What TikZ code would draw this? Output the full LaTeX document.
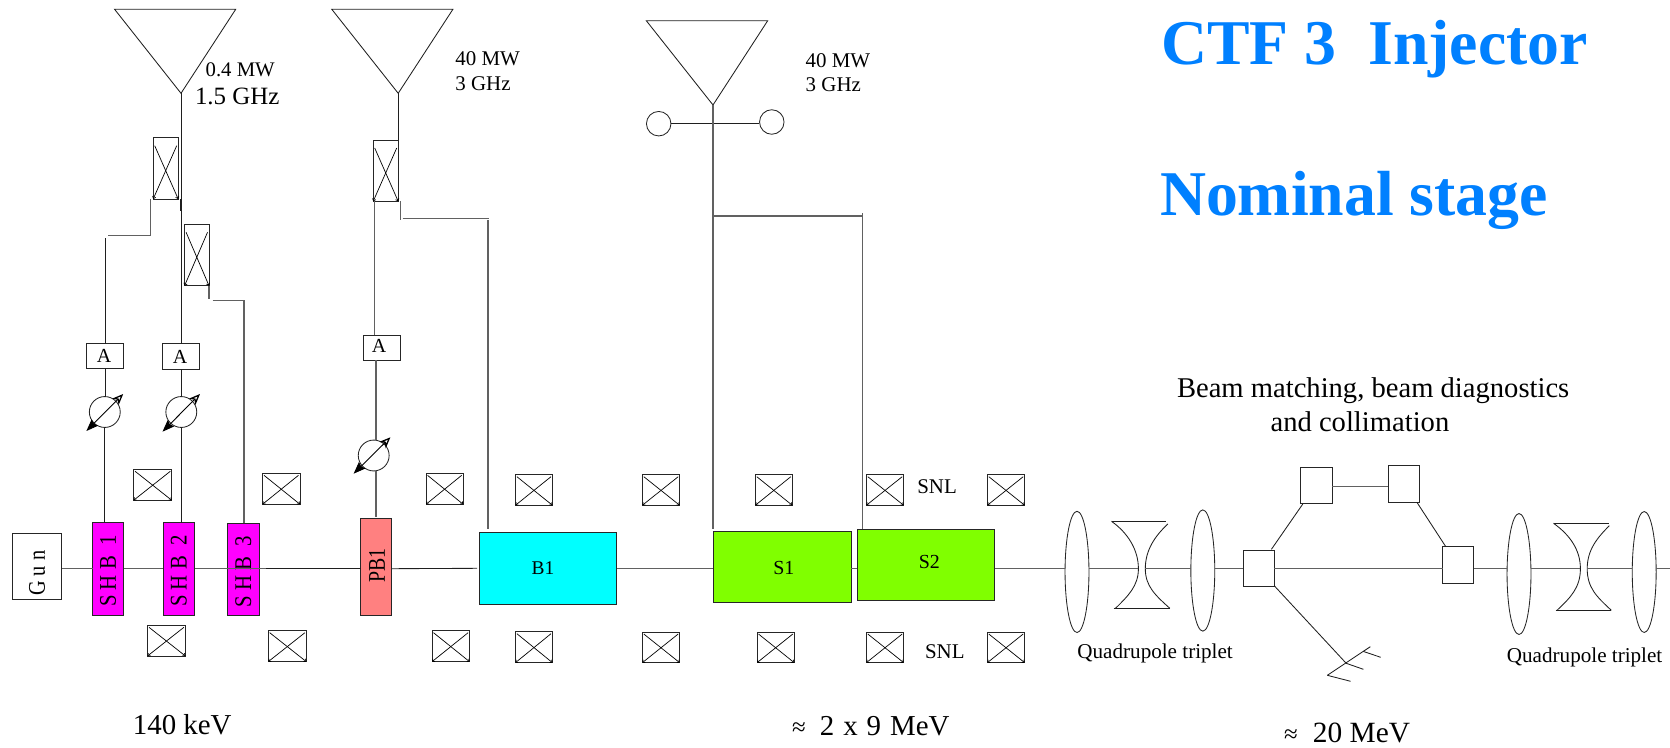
\documentclass[tikz,border=0pt]{standalone}
\usepackage{fontspec}
\setmainfont{Liberation Serif}
\usetikzlibrary{fit,calc,arrows.meta,shapes.geometric}
\newcommand{\fs}[1]{\fontsize{#1}{#1}\selectfont}
\newcommand{\dn}[2]{\raisebox{0pt}[\dimexpr\height+#1*2\relax][0pt]{#2}}
\definecolor{ctfblue}{HTML}{0080FF}
\definecolor{shbcol}{HTML}{FF00FF}
\definecolor{pbcol}{HTML}{FF8080}
\definecolor{acccol}{HTML}{80FF00}
\definecolor{bunch}{HTML}{00FFFF}
\tikzset{
 ln/.style={draw=black!88,line width=0.85pt},
 lng/.style={draw=black!62,line width=1.2pt},
 bx/.style={draw=black!85,line width=1pt,inner sep=0pt,outer sep=0pt,fill=white},
 xl/.style={draw=black,line width=0.7pt,-{Straight Barb[length=2pt,width=3.5pt]}},
 shb/.style={bx,fill=shbcol,text=black},
 lbl/.style={inner sep=0pt,outer sep=0pt,text=black},
 ell/.style={ellipse,draw=black!85,line width=0.85pt,fill=white,inner sep=0pt,outer sep=0pt},
 psh/.style={circle,draw=black!85,line width=0.85pt,fill=white,inner sep=0pt,outer sep=0pt,minimum size=31pt},
 dbl/.style={draw=black,line width=0.9pt,{Stealth[length=12pt,width=9pt,inset=1.5pt]}-{Stealth[open,length=11pt,width=9pt,inset=3pt,line width=1.3pt]}},
 title/.style={lbl,anchor=west,text=ctfblue,font=\bfseries\fs{64}},
}
% block: name, x0,y0,x1,y1, style, text
\newcommand{\blk}[7]{%
 \pgfmathsetmacro\bw{#4-#2}\pgfmathsetmacro\bh{#5-#3}%
 \pgfmathsetmacro\cx{(#2+#4)/2}\pgfmathsetmacro\cy{(#3+#5)/2}%
 \node[#6,minimum width=\bw bp,minimum height=\bh bp] (#1) at (\cx,\cy) {#7};
}
% crossed box: name, x0,y0,x1,y1, inset of the upper ends
\newcommand{\xbox}[6]{%
 \blk{#1}{#2}{#3}{#4}{#5}{bx}{}
 \draw[xl] ($(#1.north east)+(-1.5,#6)$) -- (#1.south west);
 \draw[xl] ($(#1.north west)+(1.5,#6)$) -- (#1.south east);
}
\begin{document}
\begin{tikzpicture}[x=1bp,y=-1bp]
\useasboundingbox (0,0) rectangle (1670,748);
\coordinate (by) at (0,568.7);

% ---- titles
\node[title] (t1) at (1161,49.5) {CTF 3\ \ Injector};
\node[title] (t2) at (1160,200) {Nominal stage};

% ---- antennas
\coordinate (a1l) at (114.6,9.3); \coordinate (a1r) at (235.7,9.3); \coordinate (a1p) at (181,93.3);
\coordinate (a2l) at (331.8,9.3); \coordinate (a2r) at (452.9,9.3); \coordinate (a2p) at (398.2,93.3);
\coordinate (a3l) at (646.3,20.7); \coordinate (a3r) at (767.7,20.7); \coordinate (a3p) at (713,105);
\draw[ln] (a1l) -- (a1r) -- (a1p) -- cycle;
\draw[ln] (a2l) -- (a2r) -- (a2p) -- cycle;
\draw[ln] (a3l) -- (a3r) -- (a3p) -- cycle;

\node[lbl,anchor=west] (p1) at (205.7,70) {\fs{20.8}0.4 MW};
\node[lbl,anchor=west] (p2) at (195,96.7) {\fs{25}1.5 GHz};
\node[lbl,anchor=west] (p3) at (455.4,58.3) {\fs{21}40 MW};
\node[lbl,anchor=west] (p4) at (455.4,83.3) {\fs{21}3 GHz};
\node[lbl,anchor=west] (p5) at (805.7,61) {\fs{21}40 MW};
\node[lbl,anchor=west] (p6) at (805.7,85) {\fs{21}3 GHz};

% ---- waveguide boxes
\xbox{wg1}{153.2}{137.7}{178.2}{199}{8}
\xbox{wg2}{184.6}{224.3}{209}{285.7}{8}
\xbox{wg3}{373.2}{140}{398.2}{201.3}{8}

% ---- amplifiers
\blk{A1}{86.4}{343.7}{123.6}{368.7}{bx}{\fs{20}A\hspace{2pt}\mbox{}}
\blk{A2}{162.9}{343.7}{199.6}{369.3}{bx}{\fs{20}A\hspace{2.5pt}\mbox{}}
\blk{A3}{363.6}{335}{400.7}{360}{bx}{\fs{20}\raisebox{3.6pt}{A}\hspace{6pt}\mbox{}}

% ---- phase shifters
\node[psh] (ps1) at (104.8,412) {};
\node[psh] (ps2) at (181.3,412) {};
\node[psh] (ps3) at (373.7,455.5) {};
\coordinate (ps1a) at (86.4,431); \coordinate (ps1b) at (123.2,394);
\coordinate (ps2a) at (162.5,431.7); \coordinate (ps2b) at (200,394);
\coordinate (ps3a) at (353.6,473.7); \coordinate (ps3b) at (390.4,437.3);
\draw[dbl] (ps1a) -- (ps1b);
\draw[dbl] (ps2a) -- (ps2b);
\draw[dbl] (ps3a) -- (ps3b);

% ---- beam line elements
\blk{gun}{12.5}{533}{61.8}{599.7}{bx}{\dn{7pt}{\rotatebox{90}{\scalebox{.85}[1]{\fs{24}G u n}}}}
\blk{shb1}{92.5}{522.7}{123.6}{615.3}{shb}{\dn{2pt}{\rotatebox{90}{\scalebox{.87}[1]{\fs{24}S H B\ \ 1}}}}
\blk{shb2}{163.2}{522.7}{194.6}{615.3}{shb}{\dn{2pt}{\rotatebox{90}{\scalebox{.87}[1]{\fs{24}S H B\ \ 2}}}}
\blk{shb3}{227.5}{523.3}{259.3}{615.7}{shb}{\dn{2pt}{\rotatebox{90}{\scalebox{.87}[1]{\fs{24}S H B\ \ 3}}}}
\blk{pb1}{360.7}{518.3}{391.8}{615.7}{bx,fill=pbcol}{\hspace{1.5pt}\raisebox{3.4pt}{\rotatebox{90}{\scalebox{.83}[1]{\fs{24}PB1}}}}
\blk{b1}{479.3}{532.7}{616.7}{604}{bx,fill=bunch}{\fs{19.5}B1\hspace{10pt}\mbox{}}
\blk{s1}{713.3}{531.3}{851.3}{602}{bx,fill=acccol}{\hspace{3pt}\fs{20}\dn{1pt}{S1}}
\blk{s2}{857}{529.3}{994.7}{600.3}{bx,fill=acccol}{\hspace{7pt}\fs{20}\raisebox{6pt}{S2}}

% ---- solenoid boxes
\xbox{c1}{133.6}{469.3}{171.8}{500.3}{2}
\xbox{c2}{262.5}{473.3}{300}{504.3}{2}
\xbox{c3}{426}{473.3}{463.2}{504.3}{2}
\xbox{c4}{515.4}{474.7}{552.5}{505.3}{2}
\xbox{c5}{642.3}{474.7}{679.7}{505.3}{2}
\xbox{c6}{755.3}{474.7}{792.3}{505.3}{2}
\xbox{c7}{866.3}{474.7}{903.7}{505.3}{2}
\xbox{c8}{987.3}{474.7}{1024.7}{505.3}{2}
\xbox{d1}{147.5}{625.3}{185.4}{656}{2}
\xbox{d2}{268.2}{630.7}{306.4}{661.7}{2}
\xbox{d3}{432}{630.7}{469.6}{661.7}{2}
\xbox{d4}{515.4}{631.7}{552.5}{662.7}{2}
\xbox{d5}{642.3}{632}{679.7}{662.7}{2}
\xbox{d6}{757}{632}{794.3}{662.7}{2}
\xbox{d7}{866.3}{632}{903.7}{662.7}{2}
\xbox{d8}{987.3}{632}{1024.7}{662.7}{2}
\node[lbl,anchor=west] (snl1) at (917.3,486.7) {\fs{21}SNL};
\node[lbl,anchor=west] (snl2) at (925,651.7) {\fs{21}SNL};

% ---- connectors from the antennas
\draw[ln] (a1p) -- (a1p |- A2.north);
\draw[ln,line width=1.3pt] (181,199) -- (181,211);
\coordinate (k1a) at (150.7,199); \coordinate (k1b) at (150.7,235.7); \coordinate (k1c) at (107.9,235.7);
\coordinate (k1d) at (105.7,238.3);
\draw[lng] (k1a) -- (k1b) -- (k1c);
\draw[ln] (k1d) -- (k1d |- A1.north);
\draw[ln] (k1d |- A1.south) -- (k1d |- ps1.north);
\draw[ln] (ps1.south) -- (ps1.south |- shb1.north);
\draw[ln] (a1p |- A2.south) -- (a1p |- ps2.north);
\draw[ln] (ps2.south) -- (ps2.south |- shb2.north);
\coordinate (k2a) at (209,285.7); \coordinate (k2b) at (209,299); \coordinate (k2c) at (212.5,300.7); \coordinate (k2d) at (244,300.7);
\draw[lng] (k2a) -- (k2b);
\draw[lng] (k2c) -- (k2d) -- (k2d |- shb3.north);

\draw[ln] (a2p) -- (a2p |- wg3.north);
\coordinate (k3a) at (374.3,201.3);
\draw[lng] (k3a) -- (k3a |- A3.north);
\coordinate (k3b) at (376,360);
\draw[lng] (k3b) -- (k3b |- ps3.north);
\draw[lng] (k3b |- ps3.south) -- (376,516.7);
\coordinate (k4a) at (400.7,201.3); \coordinate (k4b) at (400.7,220);
\coordinate (k4c) at (402.5,218.3); \coordinate (k4d) at (489.3,218.3); \coordinate (k4e) at (487.9,220); \coordinate (k4f) at (487.9,529);
\draw[lng] (k4a) -- (k4b);
\draw[lng] (k4c) -- (k4d);
\draw[lng] (k4e) -- (k4f);

\node[circle,draw=black!85,line width=0.85pt,minimum size=24.6pt,inner sep=0pt] (r1) at (658.7,123.7) {};
\node[circle,draw=black!85,line width=0.85pt,minimum size=24.6pt,inner sep=0pt] (r2) at (771.8,122) {};
\draw[ln] (r1.east) -- (r2.west |- r1.east);
\coordinate (k5a) at (713,528.7); \coordinate (k5b) at (713,216); \coordinate (k5c) at (862.3,216);
\coordinate (k5d) at (862.3,213.3); \coordinate (k5e) at (862.3,529.3);
\draw[lng] (a3p) -- (k5a);
\draw[lng] (k5b) -- (k5c);
\draw[lng] (k5d) -- (k5e);

% ---- beam line
\draw[lng] (gun.east |- by) -- (shb1.west |- by);
\draw[lng] (shb1.east |- by) -- (shb2.west |- by);
\coordinate (bx1) at (266,568.7);
\draw[lng] (shb2.east |- by) -- (bx1);
\draw[ln] (bx1) -- (pb1.west |- by);
\coordinate (bx2) at (477,568.3);
\draw[ln] (pb1.east |- by) -- (bx2);
\draw[lng] (b1.east |- by) -- (s1.west |- by);
\draw[lng] (s1.east |- by) -- (s2.west |- by);

% ---- quadrupole triplets
\node[ell,minimum width=24pt,minimum height=121.7pt] (e1) at (1077,571.9) {};
\node[ell,minimum width=24pt,minimum height=121.7pt] (e2) at (1202.8,570.5) {};
\node[ell,minimum width=24pt,minimum height=121.4pt] (e3) at (1519,574) {};
\node[ell,minimum width=24pt,minimum height=121.4pt] (e4) at (1644.2,572) {};
\coordinate (q1a) at (1111.5,521.3); \coordinate (q1b) at (1166.2,521.3);
\coordinate (q1c) at (1113.5,608.3); \coordinate (q1d) at (1169.8,608.3);
\coordinate (q1e) at (1115.5,608.3); \coordinate (q1f) at (1167.8,524);
\coordinate (q1l) at (1138.4,568.7); \coordinate (q1r) at (1145.3,568.7);
\draw[ln] (q1a) -- (q1b);
\draw[ln] (q1c) -- (q1d);
\draw[ln] (q1a) .. controls (1128,533) and (1138.4,550) .. (q1l) .. controls (1138.4,586) and (1128,596) .. (q1e);
\draw[ln] (q1f) .. controls (1155,536) and (1145.3,550) .. (q1r) .. controls (1145.3,586) and (1155,595) .. (q1d);
\coordinate (q2a) at (1553.5,523.3); \coordinate (q2b) at (1608.5,523.3);
\coordinate (q2c) at (1555.5,610.3); \coordinate (q2d) at (1611.3,610.3);
\coordinate (q2e) at (1557,610.3); \coordinate (q2f) at (1609.3,525.7);
\coordinate (q2l) at (1580.4,568.7); \coordinate (q2r) at (1587.2,568.7);
\draw[ln] (q2a) -- (q2b);
\draw[ln] (q2c) -- (q2d);
\draw[ln] (q2a) .. controls (1570,535) and (1580.4,550) .. (q2l) .. controls (1580.4,588) and (1570,598) .. (q2e);
\draw[ln] (q2f) .. controls (1597,538) and (1587.2,550) .. (q2r) .. controls (1587.2,588) and (1597,597) .. (q2d);

% ---- matching section
\blk{m1}{1243.3}{550}{1274.2}{586.7}{bx}{}
\blk{m2}{1300.7}{467}{1332}{503.7}{bx}{}
\blk{m3}{1388.3}{465.3}{1419.7}{502.3}{bx}{}
\blk{m4}{1442.6}{546.7}{1473.5}{583.3}{bx}{}
\coordinate (by2) at (1670,568.7);
\draw[lng] (s2.east |- by) -- (e1.west |- by);
\draw[lng] (e1.east |- by) -- (q1l);
\draw[lng] (q1r) -- (e2.west |- by);
\draw[lng] (e2.east |- by) -- (m1.west |- by);
\draw[lng] (m1.east |- by) -- (m4.west |- by);
\draw[lng] (m4.east |- by) -- (e3.west |- by);
\draw[lng] (e3.east |- by) -- (q2l);
\draw[lng] (q2r) -- (e4.west |- by);
\draw[lng] (e4.east |- by) -- (by2);
\coordinate (l1) at (1271.4,549.3); \coordinate (l2) at (1302.8,504);
\coordinate (l3) at (1416.9,502.3); \coordinate (l4) at (1445.8,546.7);
\coordinate (l5) at (1274.2,585.7); \coordinate (l6) at (1346.2,663.3);
\coordinate (my) at (0,486.7);
\draw[ln] (l1) -- (l2);
\draw[lng] (m2.east |- my) -- (m3.west |- my);
\draw[ln] (l3) -- (l4);
\draw[ln] (l5) -- (l6);
\coordinate (f1) at (1327.3,675.3); \coordinate (f2) at (1370.3,646.7);
\coordinate (f3) at (1350.6,681.3); \coordinate (f4) at (1363.4,669.3);
\coordinate (f5) at (1363,651.3); \coordinate (f6) at (1380.7,657.3);
\draw[ln] (f1) -- (f2);
\draw[ln] (f1) -- (f3);
\draw[ln] (l6) -- (f4);
\draw[ln] (f5) -- (f6);

% ---- labels
\node[lbl,anchor=west] (q1t) at (1077.4,653) {\fs{21.2}Quadrupole triplet};
\node[lbl,anchor=west] (q2t) at (1506.9,657.3) {\fs{21.2}Quadrupole triplet};
\node[lbl,anchor=west] (bm1) at (1177,390.5) {\fs{28.7}Beam matching, beam diagnostics};
\node[lbl,anchor=west] (bm2) at (1270.6,422) {\fs{28.7}and collimation};
\node[lbl,anchor=west] (en1) at (132.9,725) {\fs{29}140 keV};
\node[lbl,anchor=west] (en2) at (792,726) {\fs{25}≈\hspace{14.3pt}\fs{29}2\hspace{9pt}x\hspace{9pt}9\hspace{9pt}MeV};
\node[lbl,anchor=west] (en3) at (1284,733) {\fs{25}≈\hspace{15.3pt}\fs{29.5}20 MeV};
\end{tikzpicture}
\end{document}
